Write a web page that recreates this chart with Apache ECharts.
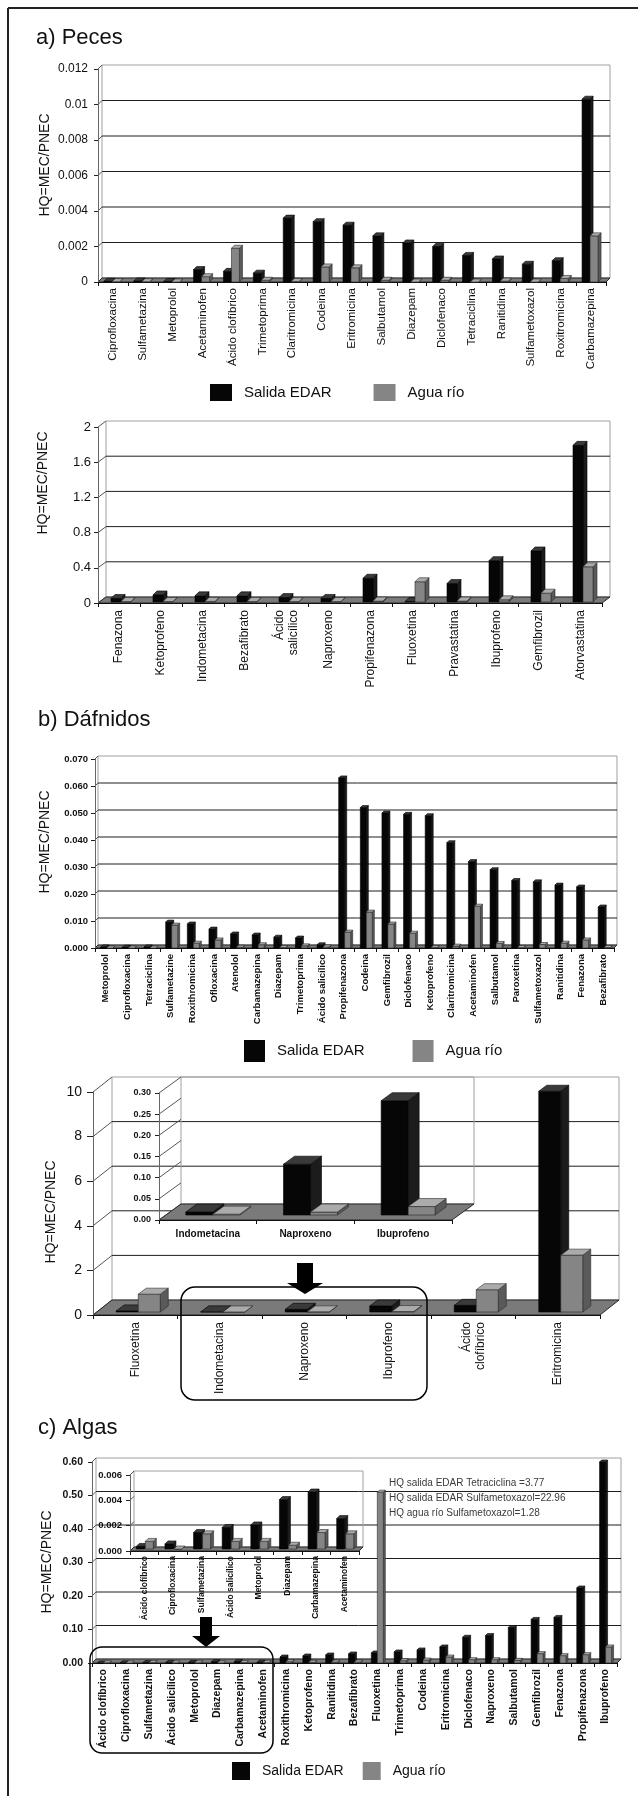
<!DOCTYPE html>
<html>
<head>
<meta charset="utf-8">
<script src="https://cdn.jsdelivr.net/npm/echarts@6/dist/echarts.min.js"></script>
<style>
  html, body { margin: 0; padding: 0; background: #fff; }
  #chart { width: 638px; height: 1796px; }
</style>
</head>
<body>
<div id="chart"></div>
<script>
// ---------- a) Peces ----------
const catPeces1 = ['Ciprofloxacina', 'Sulfametazina', 'Metoprolol', 'Acetaminofen', 'Ácido clofíbrico',
  'Trimetoprima', 'Claritromicina', 'Codeina', 'Eritromicina', 'Salbutamol', 'Diazepam', 'Diclofenaco',
  'Tetraciclina', 'Ranitidina', 'Sulfametoxazol', 'Roxitromicina', 'Carbamazepina'];
const salidaPeces1 = [0.00004, 0.00006, 0.00003, 0.0007, 0.0006, 0.0005, 0.0036, 0.0034, 0.0032, 0.0026,
  0.0022, 0.002, 0.0015, 0.0013, 0.001, 0.0012, 0.0103];
const aguaPeces1 = [0.00002, 0.00002, 0, 0.0003, 0.0019, 0.0001, 0.00003, 0.00085, 0.0008, 0.0001,
  0, 0.0001, 0, 0.00005, 0, 0.0002, 0.0026];
const ticksPeces1 = ['0', '0.002', '0.004', '0.006', '0.008', '0.01', '0.012'];

const catPeces2 = ['Fenazona', 'Ketoprofeno', 'Indometacina', 'Bezafibrato', 'Ácido\nsalicílico', 'Naproxeno',
  'Propifenazona', 'Fluoxetina', 'Pravastatina', 'Ibuprofeno', 'Gemfibrozil', 'Atorvastatina'];
const salidaPeces2 = [0.04, 0.08, 0.07, 0.07, 0.05, 0.04, 0.27, 0.005, 0.21, 0.47, 0.58, 1.78];
const aguaPeces2 = [0.005, 0.005, 0.007, 0.005, 0.005, 0.005, 0.01, 0.23, 0.01, 0.025, 0.1, 0.4];
const ticksPeces2 = ['0', '0.4', '0.8', '1.2', '1.6', '2'];

// ---------- b) Dáfnidos ----------
const catDafnidos1 = ['Metoprolol', 'Ciprofloxacina', 'Tetraciclina', 'Sulfametazine', 'Roxithromicina',
  'Ofloxacina', 'Atenolol', 'Carbamazepina', 'Diazepam', 'Trimetoprima', 'Ácido salicílico', 'Propifenazona',
  'Codeina', 'Gemfibrozil', 'Diclofenaco', 'Ketoprofeno', 'Claritromicina', 'Acetaminofen', 'Salbutamol',
  'Paroxetina', 'Sulfametoxazol', 'Ranitidina', 'Fenazona', 'Bezafibrato'];
const salidaDafnidos1 = [0.0004, 0.0003, 0.0004, 0.0096, 0.0089, 0.007, 0.0052, 0.0048, 0.004, 0.0037, 0.0012,
  0.063, 0.052, 0.05, 0.0495, 0.049, 0.039, 0.032, 0.029, 0.025, 0.0245, 0.0233, 0.0226, 0.0152];
const aguaDafnidos1 = [0, 0, 0, 0.0085, 0.0018, 0.003, 0.0003, 0.0012, 0.0002, 0.0008, 0.0004,
  0.0059, 0.0133, 0.0089, 0.0055, 0.0002, 0.0007, 0.0155, 0.0017, 0.0002, 0.0013, 0.0018, 0.003, 0.0002];
const ticksDafnidos1 = ['0.000', '0.010', '0.020', '0.030', '0.040', '0.050', '0.060', '0.070'];

const catDafnidos2 = ['Fluoxetina', 'Indometacina', 'Naproxeno', 'Ibuprofeno', 'Ácido\nclofíbrico', 'Eritromicina'];
const salidaDafnidos2 = [0.05, 0.007, 0.12, 0.27, 0.3, 9.9];
const aguaDafnidos2 = [0.8, 0.002, 0.007, 0.02, 1.0, 2.55];
const ticksDafnidos2 = ['0', '2', '4', '6', '8', '10'];
const ticksDafnidosDetalle = ['0.00', '0.05', '0.10', '0.15', '0.20', '0.25', '0.30'];

// ---------- c) Algas ----------
const catAlgas = ['Ácido clofíbrico', 'Ciprofloxacina', 'Sulfametazina', 'Ácido salicílico', 'Metoprolol',
  'Diazepam', 'Carbamazepina', 'Acetaminofen', 'Roxithromicina', 'Ketoprofeno', 'Ranitidina', 'Bezafibrato',
  'Fluoxetina', 'Trimetoprima', 'Codeina', 'Eritromicina', 'Diclofenaco', 'Naproxeno', 'Salbutamol',
  'Gemfibrozil', 'Fenazona', 'Propifenazona', 'Ibuprofeno'];
const salidaAlgas = [0.0002, 0.0004, 0.0013, 0.0017, 0.0019, 0.0039, 0.0045, 0.0024, 0.018, 0.021, 0.024,
  0.027, 0.03, 0.033, 0.039, 0.048, 0.077, 0.082, 0.106, 0.13, 0.136, 0.224, 0.6];
const aguaAlgas = [0.0006, 0, 0.0012, 0.0006, 0.0006, 0.0003, 0.0013, 0.0012, 0.004, 0.002, 0.003, 0.003,
  0.51, 0.007, 0.009, 0.018, 0.01, 0.01, 0.008, 0.028, 0.022, 0.025, 0.048];
const ticksAlgas = ['0.00', '0.10', '0.20', '0.30', '0.40', '0.50', '0.60'];
const ticksAlgasDetalle = ['0.000', '0.002', '0.004', '0.006'];
const notasAlgas = ['HQ salida EDAR Tetraciclina =3.77', 'HQ salida EDAR Sulfametoxazol=22.96',
  'HQ agua río Sulfametoxazol=1.28'];

const SERIES_NAMES = ['Salida EDAR', 'Agua río'];

// ---------- layout of each 3D panel ----------
const FONT = '"Liberation Sans", Arial, Helvetica, sans-serif';
const panels = [
  { cats: catPeces1, s: salidaPeces1, a: aguaPeces1, ticks: ticksPeces1, max: 0.012, step: 0.002,
    grid: { left: 98, top: 69, width: 508, height: 213 }, wall: { dx: 4, dy: 4, lines: true },
    bar: { w: 8, black: -9, gray: -1, dx: 3, dy: 3, base: 0 },
    xl: { fontSize: 11.5, rotate: 90, margin: 6 }, yl: { fontSize: 12, margin: 10 }, tick: 4, z: 2 },
  { cats: catPeces2, s: salidaPeces2, a: aguaPeces2, ticks: ticksPeces2, max: 2, step: 0.4,
    grid: { left: 98, top: 427, width: 504, height: 176 }, wall: { dx: 8, dy: 6, lines: true },
    bar: { w: 10, black: -8, gray: 2, dx: 4, dy: 4, base: -1 },
    xl: { fontSize: 12, rotate: 90, margin: 7 }, yl: { fontSize: 13, margin: 7 }, tick: 4, z: 2 },
  { cats: catDafnidos1, s: salidaDafnidos1, a: aguaDafnidos1, ticks: ticksDafnidos1, max: 0.07, step: 0.01,
    grid: { left: 95, top: 759, width: 519, height: 189 }, wall: { dx: 3, dy: 3, lines: true },
    bar: { w: 6, black: -5, gray: 1, dx: 2, dy: 2, base: 0 },
    xl: { fontSize: 9.5, rotate: 90, margin: 6, bold: true }, yl: { fontSize: 9.5, margin: 7, bold: true }, tick: 4, z: 2 },
  { cats: catDafnidos2, s: salidaDafnidos2, a: aguaDafnidos2, ticks: ticksDafnidos2, max: 10, step: 2,
    grid: { left: 93, top: 1092, width: 507, height: 223 }, wall: { dx: 19, dy: 15, lines: true },
    bar: { w: 22, black: -19, gray: 3, dx: 8, dy: 6, base: -3 },
    xl: { fontSize: 12, rotate: 90, margin: 7 }, yl: { fontSize: 14, margin: 11 }, tick: 6, z: 2 },
  { cats: catDafnidos2.slice(1, 4), s: salidaDafnidos2.slice(1, 4), a: aguaDafnidos2.slice(1, 4),
    ticks: ticksDafnidosDetalle, max: 0.3, step: 0.05,
    grid: { left: 159, top: 1093, width: 293, height: 127 }, wall: { dx: 22, dy: 16, lines: false },
    bar: { w: 27, black: -22, gray: 5, dx: 11, dy: 8, base: -5 },
    xl: { fontSize: 10, rotate: 0, margin: 8, bold: true }, yl: { fontSize: 9, margin: 8, bold: true }, tick: 4, z: 6 },
  { cats: catAlgas, s: salidaAlgas, a: aguaAlgas, ticks: ticksAlgas, max: 0.6, step: 0.1,
    grid: { left: 92, top: 1462, width: 525, height: 201 }, wall: { dx: 4, dy: 4, lines: true },
    bar: { w: 6, black: -6, gray: 0, dx: 2, dy: 2, base: 0 },
    xl: { fontSize: 10.5, rotate: 90, margin: 6, bold: true }, yl: { fontSize: 10.5, margin: 9, bold: true }, tick: 4, z: 2 },
  { cats: catAlgas.slice(0, 8), s: salidaAlgas.slice(0, 8), a: aguaAlgas.slice(0, 8),
    ticks: ticksAlgasDetalle, max: 0.006, step: 0.002,
    grid: { left: 130, top: 1475, width: 229, height: 76 }, wall: { dx: 4, dy: 4, lines: false },
    bar: { w: 8, black: -8, gray: 1, dx: 3, dy: 3, base: -2 },
    xl: { fontSize: 8.5, rotate: 90, margin: 5, bold: true }, yl: { fontSize: 9.5, margin: 8, bold: true }, tick: 4, z: 6 }
];

const BLACK = { front: '#060606', top: '#3a3a3a', side: '#1c1c1c', edge: '#000' };
const GRAY = { front: '#858585', top: '#ababab', side: '#5a5a5a', edge: '#2a2a2a' };

// back wall, side-wall tick diagonals and floor of a 3D panel
function wallSeries(p, idx) {
  return {
    type: 'custom', name: 'marco' + idx, xAxisIndex: idx, yAxisIndex: idx, z: p.z, silent: true,
    data: [[0, 0]], encode: { x: 0, y: 1 },
    renderItem(params, api) {
      const cs = params.coordSys;
      const x = cs.x, w = cs.width, dx = p.wall.dx, dy = p.wall.dy;
      const n = Math.round(p.max / p.step);
      const y0 = api.coord([0, 0])[1];
      const yTop = api.coord([0, p.max])[1];
      const kids = [];
      kids.push({ type: 'rect', shape: { x: x + dx, y: yTop - dy, width: w, height: y0 - yTop },
        style: { fill: 'none', stroke: '#a0a0a0', lineWidth: 1 } });
      for (let k = 0; k <= n; k++) {
        const yk = api.coord([0, k * p.step])[1];
        if (p.wall.lines && k > 0 && k < n) {
          kids.push({ type: 'line', shape: { x1: x + dx, y1: yk - dy, x2: x + w + dx, y2: yk - dy },
            style: { stroke: '#1e1e1e', lineWidth: 1 } });
        }
        kids.push({ type: 'line', shape: { x1: x, y1: yk, x2: x + dx, y2: yk - dy },
          style: { stroke: '#555', lineWidth: 1 } });
      }
      kids.push({ type: 'polygon',
        shape: { points: [[x, y0], [x + dx, y0 - dy], [x + w + dx, y0 - dy], [x + w, y0]] },
        style: { fill: '#7a7a7a', stroke: '#2a2a2a', lineWidth: 1 } });
      return { type: 'group', children: kids };
    }
  };
}

// one series of 3D columns, positioned by the category / value scales
function barSeries(p, idx, name, values, col, offset) {
  return {
    type: 'custom', name, xAxisIndex: idx, yAxisIndex: idx, z: p.z + 1,
    itemStyle: { color: col.front },
    data: values.map((v, i) => [i, v]), encode: { x: 0, y: 1 },
    renderItem(params, api) {
      const i = api.value(0), v = api.value(1);
      const top = api.coord([i, v]), bot = api.coord([i, 0]);
      const b = p.bar;
      const x0 = top[0] + offset, w = b.w;
      const yb = bot[1] + b.base, yt = Math.min(top[1] + b.base, yb);
      const st = { stroke: col.edge, lineWidth: 0.6 };
      return { type: 'group', children: [
        { type: 'polygon', shape: { points: [[x0 + w, yt], [x0 + w + b.dx, yt - b.dy], [x0 + w + b.dx, yb - b.dy], [x0 + w, yb]] },
          style: Object.assign({ fill: col.side }, st) },
        { type: 'rect', shape: { x: x0, y: yt, width: w, height: yb - yt }, style: Object.assign({ fill: col.front }, st) },
        { type: 'polygon', shape: { points: [[x0, yt], [x0 + b.dx, yt - b.dy], [x0 + w + b.dx, yt - b.dy], [x0 + w, yt]] },
          style: Object.assign({ fill: col.top }, st) }
      ] };
    }
  };
}

const grid = [], xAxis = [], yAxis = [], series = [];
panels.forEach((p, idx) => {
  grid.push(Object.assign({ containLabel: false }, p.grid));
  xAxis.push({
    gridIndex: idx, type: 'category', data: p.cats, boundaryGap: true, z: p.z,
    axisLine: { show: true, lineStyle: { color: '#111', width: 1 } },
    axisTick: { show: true, length: 4, alignWithLabel: false, lineStyle: { color: '#111' } },
    axisLabel: { interval: 0, rotate: p.xl.rotate, fontSize: p.xl.fontSize, margin: p.xl.margin,
      fontWeight: p.xl.bold ? 'bold' : 'normal',
      color: '#111', fontFamily: FONT, lineHeight: p.xl.fontSize + 2 },
    splitLine: { show: false }
  });
  yAxis.push({
    gridIndex: idx, type: 'value', min: 0, max: p.max, interval: p.step, z: p.z,
    axisLine: { show: true, lineStyle: { color: '#666', width: 1 } },
    axisTick: { show: true, length: p.tick, lineStyle: { color: '#222' } },
    axisLabel: { fontSize: p.yl.fontSize, margin: p.yl.margin, color: '#111', fontFamily: FONT,
      fontWeight: p.yl.bold ? 'bold' : 'normal',
      formatter: (v) => p.ticks[Math.round(v / p.step)] },
    splitLine: { show: false }
  });
  series.push(wallSeries(p, idx));
  series.push(barSeries(p, idx, SERIES_NAMES[0], p.s, BLACK, p.bar.black));
  series.push(barSeries(p, idx, SERIES_NAMES[1], p.a, GRAY, p.bar.gray));
});

function legendAt(left, top, w, h, fs, gap) {
  return {
    data: SERIES_NAMES, left, top, orient: 'horizontal', padding: 0, itemGap: gap,
    itemWidth: w, itemHeight: h, icon: 'rect', selectedMode: false,
    textStyle: { fontSize: fs, color: '#111', fontFamily: FONT, padding: [0, 0, 0, 7] }
  };
}

function txt(text, x, y, fs, extra) {
  return Object.assign({ type: 'text', x, y, silent: true,
    style: { text, fontSize: fs, fontFamily: FONT, fill: '#111', align: 'left', verticalAlign: 'middle' } }, extra || {});
}
function yTitle(x, y) {
  return { type: 'text', x, y, rotation: Math.PI / 2, silent: true,
    style: { text: 'HQ=MEC/PNEC', fontSize: 14, fontFamily: FONT, fill: '#111', align: 'center', verticalAlign: 'middle' } };
}

const graphic = [
  { type: 'line', shape: { x1: 8, y1: 8, x2: 638, y2: 8 }, style: { stroke: '#222', lineWidth: 2 } },
  { type: 'line', shape: { x1: 8, y1: 8, x2: 8, y2: 1796 }, style: { stroke: '#222', lineWidth: 2 } },
  txt('a) Peces', 36, 38, 22),
  txt('b) Dáfnidos', 38, 720, 22),
  txt('c) Algas', 38, 1428, 22),
  yTitle(45, 165), yTitle(43, 483), yTitle(45, 842), yTitle(51, 1212), yTitle(47, 1562),
  // detail frames and arrows pointing at the enlarged groups
  { type: 'rect', shape: { x: 181, y: 1287, width: 246, height: 113, r: 14 },
    style: { fill: 'none', stroke: '#000', lineWidth: 1.5 }, z: 20 },
  { type: 'polygon', shape: { points: [[297, 1263], [313, 1263], [313, 1283], [323, 1283], [305, 1294], [287, 1283], [297, 1283]] },
    style: { fill: '#000' }, z: 21 },
  { type: 'rect', shape: { x: 90, y: 1647, width: 183, height: 106, r: 12 },
    style: { fill: 'none', stroke: '#000', lineWidth: 1.5 }, z: 20 },
  { type: 'polygon', shape: { points: [[200, 1617], [212, 1617], [212, 1636], [220, 1636], [206, 1647], [192, 1636], [200, 1636]] },
    style: { fill: '#000' }, z: 21 }
];
notasAlgas.forEach((t, i) => {
  const g = txt(t, 389, 1483 + i * 15, 10);
  g.style.fill = '#3a3a3a';
  g.z = 20;
  graphic.push(g);
});

const chart = echarts.init(document.getElementById('chart'), null, { renderer: 'canvas' });
chart.setOption({
  animation: false,
  backgroundColor: '#fff',
  textStyle: { fontFamily: FONT },
  grid, xAxis, yAxis, series,
  legend: [
    legendAt(210, 384, 22, 17, 15, 42),
    legendAt(244, 1040, 21, 22, 15, 48),
    legendAt(232, 1762, 18, 18, 14, 19)
  ],
  graphic
});
</script>
</body>
</html>
